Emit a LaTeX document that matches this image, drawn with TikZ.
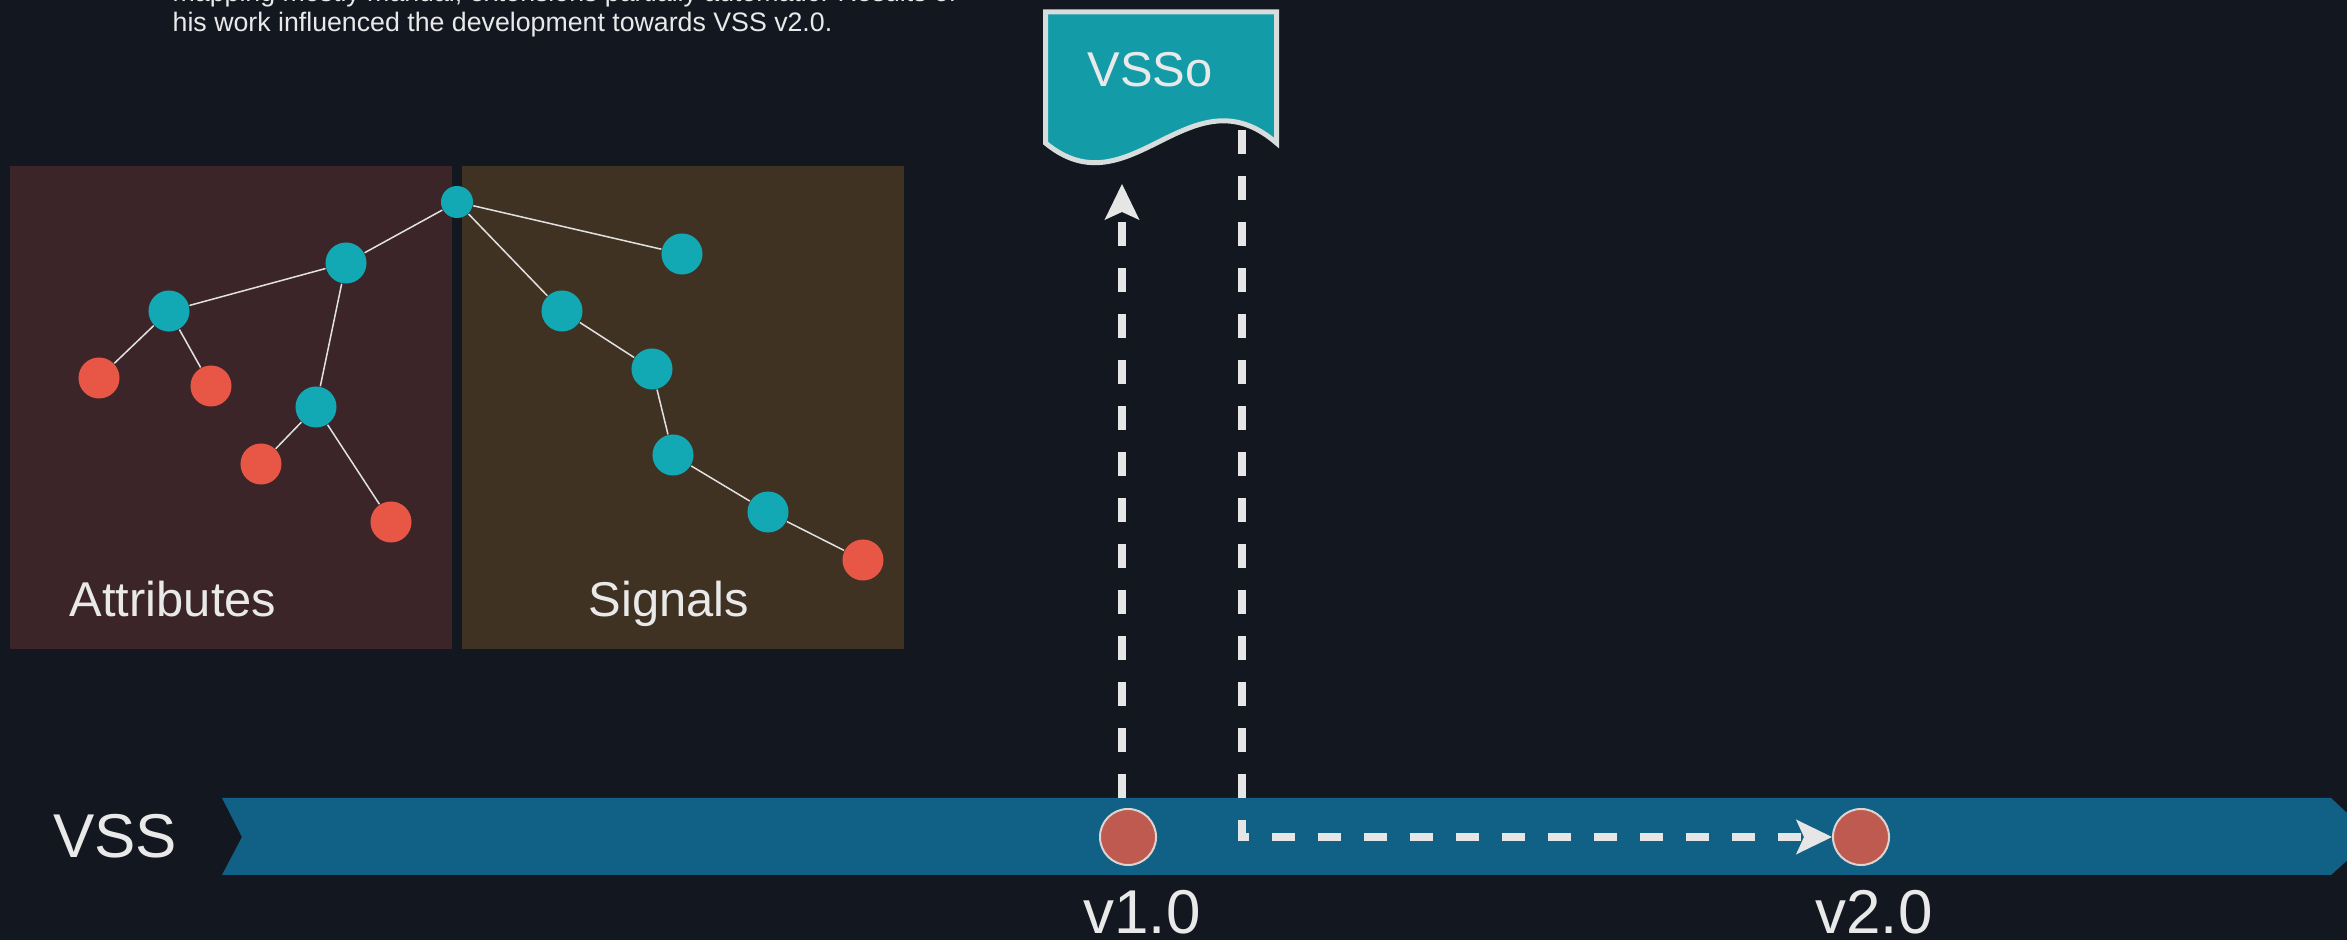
\documentclass[tikz,border=0pt]{standalone}
\usepackage{fontspec}
\setmainfont{Liberation Sans}
\usepackage{tikz}
\usetikzlibrary{arrows.meta}

\definecolor{pagebg}{RGB}{19,24,32}
\definecolor{attrbg}{RGB}{59,37,40}
\definecolor{sigbg}{RGB}{63,50,34}
\definecolor{treeteal}{RGB}{18,169,181}
\definecolor{leafred}{RGB}{232,87,70}
\definecolor{edgegrey}{RGB}{225,225,225}
\definecolor{vssofill}{RGB}{19,156,167}
\definecolor{vssorim}{RGB}{215,220,221}
\definecolor{barblue}{RGB}{17,97,135}
\definecolor{vred}{RGB}{190,90,80}
\definecolor{vrim}{RGB}{221,211,207}
\definecolor{dashgrey}{RGB}{230,230,230}
\definecolor{textgrey}{RGB}{233,233,233}

\begin{document}
\begin{tikzpicture}[x=0.01cm, y=-0.01cm,
        treeedge/.style={draw=edgegrey, line width=0.43pt},
        inner/.style={circle, fill=treeteal, minimum size=0.41cm, inner sep=0pt},
        leaf/.style={circle, fill=leafred, minimum size=0.41cm, inner sep=0pt},
        version/.style={circle, fill=vred, draw=vrim, line width=0.57pt, minimum size=0.56cm, inner sep=0pt},
        flow/.style={draw=dashgrey, line width=2.28pt, dash pattern=on 6.69pt off 6.4pt,
            -{Stealth[length=10.24pt, width=9.96pt, inset=2.28pt, line width=0pt]}},
        big/.style={text=textgrey, inner sep=0pt, font=\fontsize{17.6}{21}\selectfont},
        mid/.style={text=textgrey, inner sep=0pt, font=\fontsize{13.9}{16}\selectfont}]
        \useasboundingbox (0,0) rectangle (2347,940);
        \fill[pagebg] (0,0) rectangle (2347,940);
        \node[anchor=base west, align=left, inner sep=0pt, text=textgrey, font=\fontsize{7.6}{8.8}\selectfont] (note) at (172,32)
            {mapping mostly manual, extensions partially automatic. Results of\\his work influenced the development towards VSS v2.0.};
        \fill[attrbg] (10,166) rectangle (452,649);
        \fill[sigbg] (462,166) rectangle (904,649);
        \node[inner, minimum size=0.32cm] (root) at (457,202) {};
        \foreach \n/\x/\y in {a1/346/263, a2/169/311, a3/316/407, s1/682/254, s2/562/311, s3/652/369, s4/673/455, s5/768/512}
            \node[inner] (\n) at (\x,\y) {};
        \foreach \n/\x/\y in {l1/99/378, l2/211/386, l3/261/464, l4/391/522, l5/863/560}
            \node[leaf] (\n) at (\x,\y) {};
        \foreach \a/\b in {root/a1, a1/a2, a2/l1, a2/l2, a1/a3, a3/l3, a3/l4, root/s1, root/s2, s2/s3, s3/s4, s4/s5, s5/l5}
            \draw[treeedge] (\a) -- (\b);
        \node[mid, anchor=base] (attr) at (173,617) {Attributes};
        \node[mid, anchor=base] (sig) at (669,617) {Signals};
        \filldraw[fill=vssofill, draw=vssorim, line width=1.42pt] (1045.5,12) -- (1276.5,12) -- (1276.5,143)
            .. controls (1190,68) and (1130,213) .. (1045.5,143) -- cycle;
        \node[mid, anchor=base] (vsso) at (1150,87) {VSSo};
        \coordinate (vssoin) at (1122,184);
        \coordinate (vssoout) at (1242,130);
        \fill[barblue] (222,798) -- (2331,798) -- (2373,837) -- (2331,875) -- (222,875) -- (242,837) -- cycle;
        \node[big, anchor=base] (vss) at (115,857) {VSS};
        \node[version] (v1) at (1128,837) {};
        \node[version] (v2) at (1861,837) {};
        \node[big, anchor=base] (v1lab) at (1142,933) {v1.0};
        \node[big, anchor=base] (v2lab) at (1874,933) {v2.0};
        \draw[flow, dash phase=10.24pt] (v1.north -| vssoin) -- (vssoin);
        \draw[flow] (vssoout) |- (v2.west);
    \end{tikzpicture}
\end{document}
